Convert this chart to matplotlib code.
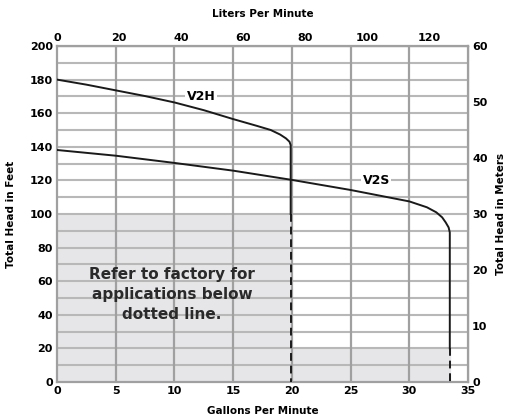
import matplotlib.pyplot as plt

# pump curves (gpm, feet of head)
V2H_GPM = [0, 2.5, 5, 7.5, 10, 12.5, 15, 17, 18.2, 19, 19.5, 19.8, 19.9, 19.9]
V2H_FT = [180, 177, 173.6, 170.2, 166.4, 161.8, 156.5, 152.5, 150, 147.3, 145, 143, 141, 100]
V2S_GPM = [0, 5, 10, 15, 20, 25, 30, 31.5, 32.3, 32.8, 33.1, 33.35, 33.45, 33.45]
V2S_FT = [138.1, 134.7, 130.4, 125.8, 120.3, 114.3, 107.5, 104, 101, 98, 95, 92, 89, 20]

# dashed continuation below the usable range
V2H_DASH_GPM = [19.9, 19.9]
V2H_DASH_FT = [100, 0]
V2S_DASH_GPM = [33.45, 33.45]
V2S_DASH_FT = [20, 0]

GPM_TICKS = [0, 5, 10, 15, 20, 25, 30, 35]
FT_TICKS = [0, 20, 40, 60, 80, 100, 120, 140, 160, 180, 200]
LPM_TICKS = [0, 20, 40, 60, 80, 100, 120]
M_TICKS = [0, 10, 20, 30, 40, 50, 60]

LITERS_PER_GALLON = 3.785

fig = plt.figure(figsize=(5.08, 4.2), dpi=100)
ax = fig.add_axes([57 / 508, 38 / 420, 411 / 508, 336 / 420])

ax.set_xlim(0, 35)
ax.set_ylim(0, 200)

# shaded "refer to factory" zones
ax.fill_between([0, 19.9], 0, 100, color="#e6e6e8", zorder=0)
ax.fill_between([19.9, 33.45], 0, 20, color="#e6e6e8", zorder=0)

# grid
for y in range(10, 200, 10):
    ax.axhline(y, color="#b8b8b8", lw=1.5, zorder=1)
for x in GPM_TICKS[1:-1]:
    ax.axvline(x, color="#a0a0a0", lw=1.6, zorder=1)
for side in ["left", "right", "top", "bottom"]:
    ax.spines[side].set_color("#a0a0a0")
    ax.spines[side].set_linewidth(1.6)

ax.plot(V2H_GPM, V2H_FT, color="#1a1a1a", lw=1.4, zorder=3)
ax.plot(V2S_GPM, V2S_FT, color="#1a1a1a", lw=1.4, zorder=3)
ax.plot(V2H_DASH_GPM, V2H_DASH_FT, color="#1a1a1a", lw=1.4, ls=(0, (4, 2.5)), zorder=3)
ax.plot(V2S_DASH_GPM, V2S_DASH_FT, color="#1a1a1a", lw=1.4, ls=(0, (4, 2.5)), zorder=3)

ax.text(12.25, 170, "V2H", fontsize=9, fontweight="bold", ha="center", va="center",
        bbox=dict(facecolor="white", edgecolor="none", pad=1), zorder=4)
ax.text(27.2, 120, "V2S", fontsize=9, fontweight="bold", ha="center", va="center",
        bbox=dict(facecolor="white", edgecolor="none", pad=1), zorder=4)

ax.text(9.8, 52, "Refer to factory for\napplications below\ndotted line.",
        fontsize=11, fontweight="bold", color="#2a2a2a", ha="center", va="center",
        linespacing=1.4, zorder=4)

ax.set_xticks(GPM_TICKS)
ax.set_yticks(FT_TICKS)
ax.tick_params(length=0, labelsize=8, pad=3)
for lbl in ax.get_xticklabels() + ax.get_yticklabels():
    lbl.set_fontweight("bold")
ax.set_xlabel("Gallons Per Minute", fontsize=7.5, fontweight="bold", labelpad=7)
ax.set_ylabel("Total Head in Feet", fontsize=7.5, fontweight="bold", labelpad=10)

top = ax.secondary_xaxis("top", functions=(lambda g: g * LITERS_PER_GALLON,
                                           lambda l: l / LITERS_PER_GALLON))
top.set_xticks(LPM_TICKS)
top.tick_params(length=0, labelsize=8, pad=2)
for lbl in top.get_xticklabels():
    lbl.set_fontweight("bold")
top.set_xlabel("Liters Per Minute", fontsize=7.5, fontweight="bold", labelpad=12)

right = ax.secondary_yaxis("right", functions=(lambda f: f * 0.3,
                                               lambda m: m / 0.3))
right.set_yticks(M_TICKS)
right.tick_params(length=0, labelsize=8, pad=3)
for lbl in right.get_yticklabels():
    lbl.set_fontweight("bold")
right.set_ylabel("Total Head in Meters", fontsize=7.5, fontweight="bold", labelpad=6)

fig.savefig("out.png", dpi=100)
